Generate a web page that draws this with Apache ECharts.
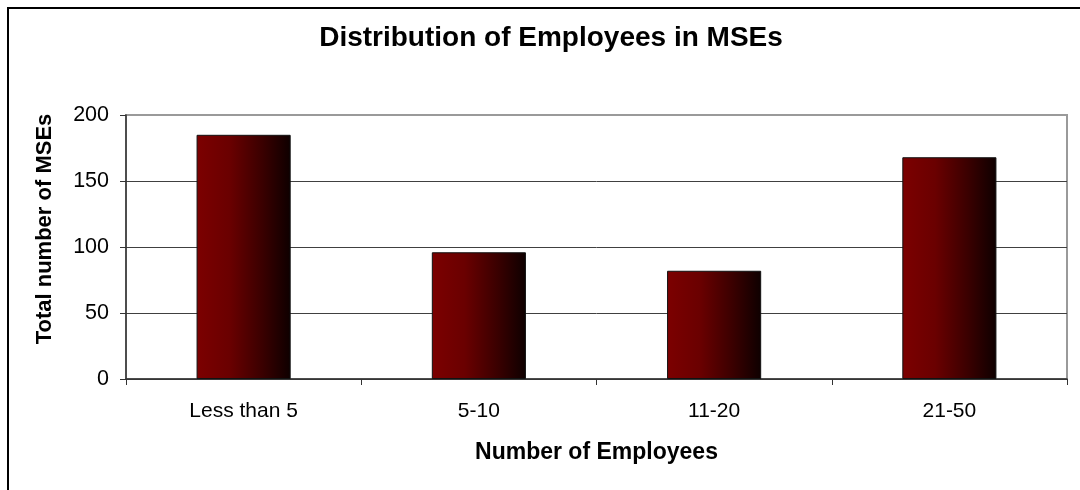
<!DOCTYPE html>
<html>
<head>
<meta charset="utf-8">
<script src="https://cdn.jsdelivr.net/npm/echarts@6/dist/echarts.min.js"></script>
<style>
  html, body { margin: 0; padding: 0; background: #fff; }
  #chart { width: 1080px; height: 490px; }
</style>
</head>
<body>
<div id="chart"></div>
<script>
// Employee-size bands and how many MSEs fall in each
const categories = ['Less than 5', '5-10', '11-20', '21-50'];
const mseCounts = [185, 96, 82, 168];
const yTicks = [0, 50, 100, 150, 200];

const chart = echarts.init(document.getElementById('chart'), null, { renderer: 'canvas' });

const font = 'Liberation Sans, Arial, sans-serif';

chart.setOption({
  backgroundColor: '#ffffff',
  animation: false,
  title: {
    text: 'Distribution of Employees in MSEs',
    left: 546,
    textAlign: 'center',
    top: 19,
    textStyle: { fontFamily: font, fontSize: 28, fontWeight: 'bold', color: '#000' }
  },
  graphic: [{
    type: 'rect',
    shape: { x: 8, y: 8, width: 1100, height: 520 },
    style: { fill: 'none', stroke: '#000', lineWidth: 2 },
    silent: true
  }],
  grid: {
    left: 126, right: 13, top: 115, bottom: 111,
    show: true, borderColor: '#9a9a9a', borderWidth: 2, backgroundColor: '#fff'
  },
  xAxis: {
    type: 'category',
    data: categories,
    name: 'Number of Employees',
    nameLocation: 'middle',
    nameGap: 62,
    nameTextStyle: { fontFamily: font, fontSize: 23, fontWeight: 'bold', color: '#000' },
    axisLine: { lineStyle: { color: '#333', width: 1.5 } },
    axisTick: { show: true, length: 6, lineStyle: { color: '#333' } },
    axisLabel: { fontFamily: font, fontSize: 21, color: '#000', margin: 22 },
    splitLine: { show: false }
  },
  yAxis: {
    type: 'value',
    min: yTicks[0],
    max: yTicks[yTicks.length - 1],
    interval: 50,
    name: 'Total number of MSEs',
    nameLocation: 'middle',
    nameGap: 70,
    // left padding lifts the rotated title a little above the plot's centre
    nameTextStyle: { fontFamily: font, fontSize: 22, fontWeight: 'bold', color: '#000', padding: [0, 0, 0, 36] },
    axisLine: { show: true, lineStyle: { color: '#333', width: 1.5 } },
    axisTick: { show: true, length: 6, lineStyle: { color: '#333' } },
    axisLabel: { fontFamily: font, fontSize: 21.5, color: '#000', margin: 17 },
    splitLine: {
      show: true,
      lineStyle: { color: ['#404040', '#404040', '#404040', '#404040', '#9a9a9a'], width: 1 }
    }
  },
  series: [{
    type: 'bar',
    data: mseCounts,
    barWidth: '40%',
    itemStyle: {
      borderColor: '#111',
      borderWidth: 1,
      color: new echarts.graphic.LinearGradient(0, 0, 1, 0, [
        { offset: 0, color: '#7c0000' },
        { offset: 0.35, color: '#6a0000' },
        { offset: 0.7, color: '#3a0000' },
        { offset: 1, color: '#0e0000' }
      ])
    }
  }]
});
</script>
</body>
</html>
